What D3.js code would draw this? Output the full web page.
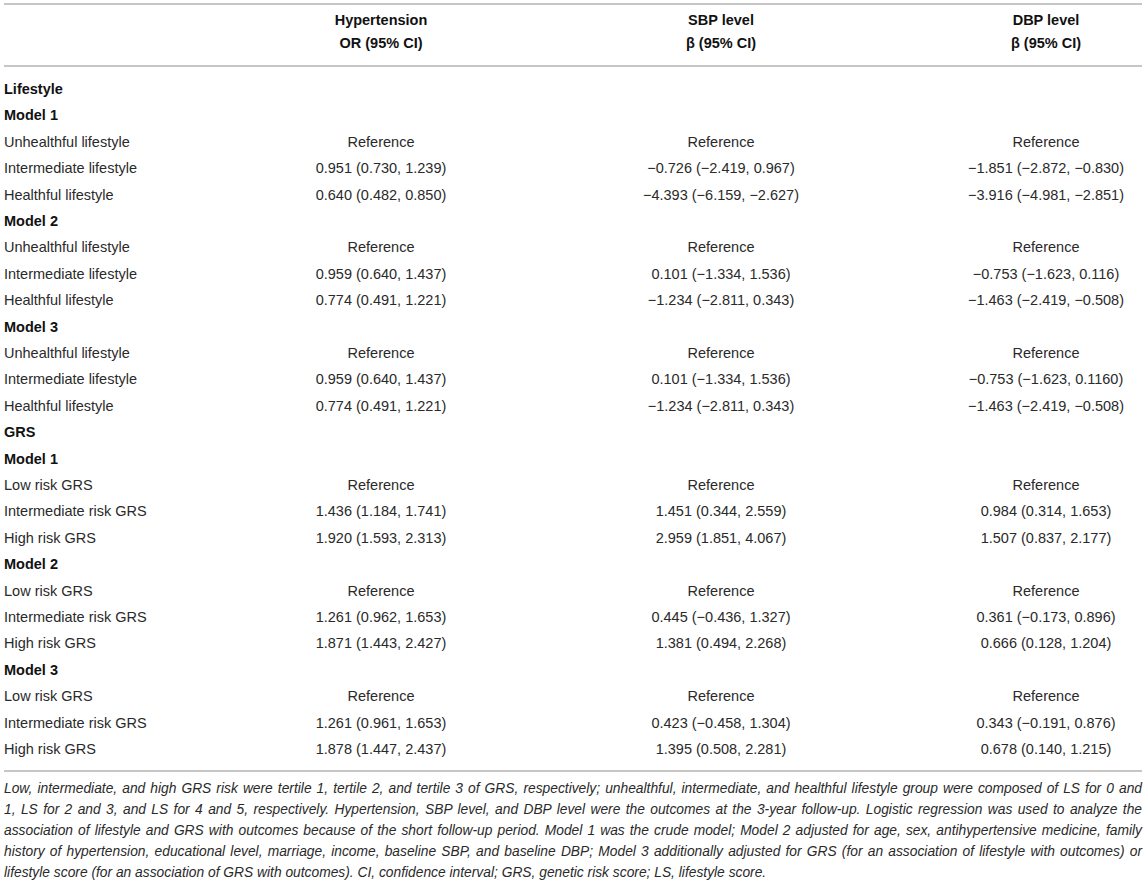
<!DOCTYPE html>
<html>
<head>
<meta charset="utf-8">
<script src="https://cdn.jsdelivr.net/npm/d3@7"></script>
<style>
    body { margin: 0; background: #fff; }
    text { font-family: "Liberation Sans", Arial, Helvetica, sans-serif; }
</style>
</head>
<body>
<div id="table-area"></div>
<script>
// table contents
var columnHeads = [
    ["Hypertension", "OR (95% CI)"],
    ["SBP level", "\u03b2 (95% CI)"],
    ["DBP level", "\u03b2 (95% CI)"]
];

var rowLabels = [
    "Lifestyle",
    "Model 1", "Unhealthful lifestyle", "Intermediate lifestyle", "Healthful lifestyle",
    "Model 2", "Unhealthful lifestyle", "Intermediate lifestyle", "Healthful lifestyle",
    "Model 3", "Unhealthful lifestyle", "Intermediate lifestyle", "Healthful lifestyle",
    "GRS",
    "Model 1", "Low risk GRS", "Intermediate risk GRS", "High risk GRS",
    "Model 2", "Low risk GRS", "Intermediate risk GRS", "High risk GRS",
    "Model 3", "Low risk GRS", "Intermediate risk GRS", "High risk GRS"
];

// bold rows (section and model headings)
var boldRows = [0, 1, 5, 9, 13, 14, 18, 22];

var hypertension = [
    "",
    "", "Reference", "0.951 (0.730, 1.239)", "0.640 (0.482, 0.850)",
    "", "Reference", "0.959 (0.640, 1.437)", "0.774 (0.491, 1.221)",
    "", "Reference", "0.959 (0.640, 1.437)", "0.774 (0.491, 1.221)",
    "",
    "", "Reference", "1.436 (1.184, 1.741)", "1.920 (1.593, 2.313)",
    "", "Reference", "1.261 (0.962, 1.653)", "1.871 (1.443, 2.427)",
    "", "Reference", "1.261 (0.961, 1.653)", "1.878 (1.447, 2.437)"
];

var sbpLevel = [
    "",
    "", "Reference", "\u22120.726 (\u22122.419, 0.967)", "\u22124.393 (\u22126.159, \u22122.627)",
    "", "Reference", "0.101 (\u22121.334, 1.536)", "\u22121.234 (\u22122.811, 0.343)",
    "", "Reference", "0.101 (\u22121.334, 1.536)", "\u22121.234 (\u22122.811, 0.343)",
    "",
    "", "Reference", "1.451 (0.344, 2.559)", "2.959 (1.851, 4.067)",
    "", "Reference", "0.445 (\u22120.436, 1.327)", "1.381 (0.494, 2.268)",
    "", "Reference", "0.423 (\u22120.458, 1.304)", "1.395 (0.508, 2.281)"
];

var dbpLevel = [
    "",
    "", "Reference", "\u22121.851 (\u22122.872, \u22120.830)", "\u22123.916 (\u22124.981, \u22122.851)",
    "", "Reference", "\u22120.753 (\u22121.623, 0.116)", "\u22121.463 (\u22122.419, \u22120.508)",
    "", "Reference", "\u22120.753 (\u22121.623, 0.1160)", "\u22121.463 (\u22122.419, \u22120.508)",
    "",
    "", "Reference", "0.984 (0.314, 1.653)", "1.507 (0.837, 2.177)",
    "", "Reference", "0.361 (\u22120.173, 0.896)", "0.666 (0.128, 1.204)",
    "", "Reference", "0.343 (\u22120.191, 0.876)", "0.678 (0.140, 1.215)"
];

var footnoteLines = [
    "Low, intermediate, and high GRS risk were tertile 1, tertile 2, and tertile 3 of GRS, respectively; unhealthful, intermediate, and healthful lifestyle group were composed of LS for 0 and",
    "1, LS for 2 and 3, and LS for 4 and 5, respectively. Hypertension, SBP level, and DBP level were the outcomes at the 3-year follow-up. Logistic regression was used to analyze the",
    "association of lifestyle and GRS with outcomes because of the short follow-up period. Model 1 was the crude model; Model 2 adjusted for age, sex, antihypertensive medicine, family",
    "history of hypertension, educational level, marriage, income, baseline SBP, and baseline DBP; Model 3 additionally adjusted for GRS (for an association of lifestyle with outcomes) or",
    "lifestyle score (for an association of GRS with outcomes). CI, confidence interval; GRS, genetic risk score; LS, lifestyle score."
];

var width = 1146,
    height = 880,
    left = 4,
    right = 1142;

var svg = d3.select("#table-area").append("svg")
    .attr("width", width)
    .attr("height", height);

// rows and columns
var y = d3.scalePoint()
    .domain(d3.range(rowLabels.length))
    .range([89, 749]);

var x = d3.scalePoint()
    .domain(["hyp", "sbp", "dbp"])
    .range([381, 1046]);

var colCenters = [381, 721, 1046];

function rule(yPos){
    svg.append("line")
        .attr("x1", left)
        .attr("x2", right)
        .attr("y1", yPos)
        .attr("y2", yPos)
        .attr("stroke", "#c6c6c6")
        .attr("stroke-width", 2);
}

rule(4);
rule(66);
rule(771);

// header
var head = svg.append("g").attr("class", "head");
columnHeads.forEach(function(h, i){
    h.forEach(function(line, j){
        head.append("text")
            .attr("x", colCenters[i])
            .attr("y", 20 + j * 23)
            .attr("dy", "0.35em")
            .attr("text-anchor", "middle")
            .attr("font-size", "14.5px")
            .attr("font-weight", "bold")
            .attr("fill", "#111")
            .text(line);
    });
});

// body rows
var rows = svg.append("g").attr("class", "rows")
    .selectAll("g")
    .data(rowLabels)
    .enter().append("g")
    .attr("transform", function(d, i){ return "translate(0," + y(i) + ")"; });

rows.append("text")
    .attr("x", left)
    .attr("dy", "0.35em")
    .attr("font-size", "14.5px")
    .attr("font-weight", function(d, i){ return boldRows.indexOf(i) >= 0 ? "bold" : "normal"; })
    .attr("fill", function(d, i){ return boldRows.indexOf(i) >= 0 ? "#111" : "#2a2a2a"; })
    .text(function(d){ return d; });

[hypertension, sbpLevel, dbpLevel].forEach(function(col, c){
    rows.append("text")
        .attr("x", colCenters[c])
        .attr("dy", "0.35em")
        .attr("text-anchor", "middle")
        .attr("font-size", "14.5px")
        .attr("fill", "#2a2a2a")
        .text(function(d, i){ return col[i]; });
});

// footnote, justified except last line
var note = svg.append("g").attr("class", "footnote");
footnoteLines.forEach(function(line, k){
    var t = note.append("text")
        .attr("x", left)
        .attr("y", 788 + k * 21)
        .attr("dy", "0.35em")
        .attr("font-size", "13.8px")
        .attr("font-style", "italic")
        .attr("fill", "#2a2a2a")
        .text(line);

    if (k < footnoteLines.length - 1) {
        var natural = t.node().getComputedTextLength();
        var spaces = line.split(" ").length - 1;
        t.attr("word-spacing", ((right - left - natural) / spaces) + "px");
    }
});
</script>
</body>
</html>
